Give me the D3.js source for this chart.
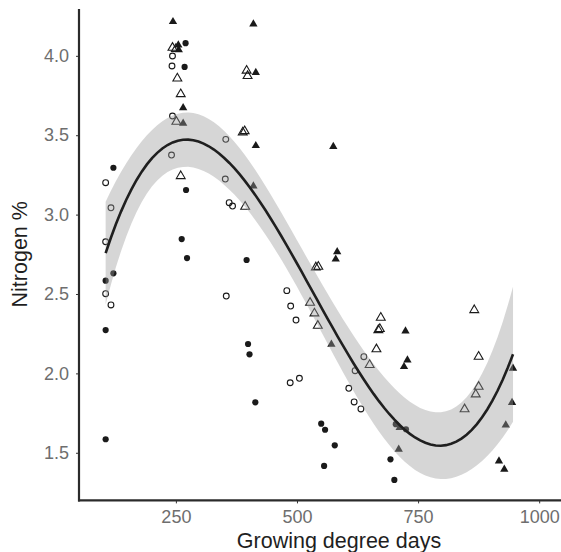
<!DOCTYPE html>
<html>
<head>
<meta charset="utf-8">
<script src="https://cdn.jsdelivr.net/npm/d3@7"></script>
<style>
  html, body { margin: 0; padding: 0; background: #fff; }
  svg { display: block; }
  text { font-family: "Liberation Sans", Arial, Helvetica, sans-serif; }
</style>
</head>
<body>
<svg id="chart" width="561" height="552"></svg>
<script>
// Nitrogen % against growing degree days, four sample groups
const solidCircles = [
  [270, 4.08], [268, 3.93], [271, 3.155], [262, 2.846], [273, 2.726],
  [121, 3.295], [105, 2.584], [121, 2.63], [105, 2.273], [105, 1.585],
  [396, 2.714], [399, 2.185], [402, 2.12], [414, 1.818],
  [550, 1.683], [558, 1.645], [578, 1.547], [556, 1.417],
  [704, 1.68], [725, 1.648], [693, 1.459], [701, 1.329]
];
const openCircles = [
  [243, 3.999], [242, 3.936], [243, 3.621], [241, 3.375],
  [105, 3.201], [116, 3.043], [105, 2.829], [105, 2.502], [116, 2.431],
  [353, 3.474], [352, 3.224], [360, 3.075], [367, 3.054], [354, 2.487],
  [479, 2.521], [487, 2.424], [498, 2.336], [486, 1.941], [505, 1.969],
  [638, 2.105], [620, 2.017], [607, 1.906], [618, 1.82], [632, 1.776]
];
const solidTriangles = [
  [244, 4.215], [255, 4.068], [256, 4.037], [265, 3.673], [265, 3.575],
  [410, 4.2], [415, 3.894], [415, 3.434], [410, 3.18],
  [575, 3.428], [583, 2.766], [580, 2.719], [571, 2.183],
  [724, 2.267], [728, 2.084], [721, 2.042], [712, 1.658], [710, 1.522],
  [946, 2.032], [944, 1.816], [931, 1.675], [917, 1.448], [928, 1.396]
];
const openTriangles = [
  [243, 4.051], [250, 4.043], [253, 3.858], [260, 3.759], [251, 3.585], [260, 3.243],
  [396, 3.907], [398, 3.873], [388, 3.518], [392, 3.526], [393, 3.05],
  [539, 2.668], [544, 2.672], [527, 2.445], [536, 2.378], [543, 2.3],
  [650, 2.053], [664, 2.152], [673, 2.351], [671, 2.28], [668, 2.273],
  [866, 2.399], [875, 2.105], [875, 1.916], [869, 1.868], [846, 1.774]
];

const xTicks = [250, 500, 750, 1000];
const yTicks = [1.5, 2.0, 2.5, 3.0, 3.5, 4.0];
const xTitle = "Growing degree days";
const yTitle = "Nitrogen %";

const svg = d3.select("#chart");
const plotLeft = 79, plotRight = 563.4, plotTop = 8.2, plotBottom = 500.4;

const x = d3.scaleLinear().domain([50, 1050]).range([plotLeft, plotRight]);
const y = d3.scaleLinear().domain([1.2, 4.3]).range([plotBottom, plotTop]);

// ---- cubic least-squares fit with 95% confidence band ----
const all = [...solidCircles, ...openCircles, ...solidTriangles, ...openTriangles];
const n = all.length;
const mx = d3.mean(all, d => d[0]);
const sx = d3.deviation(all, d => d[0]);
const basis = v => { const u = (v - mx) / sx; return [1, u, u * u, u * u * u]; };

const XtX = Array.from({length: 4}, () => [0, 0, 0, 0]);
const Xty = [0, 0, 0, 0];
all.forEach(([xv, yv]) => {
  const b = basis(xv);
  for (let i = 0; i < 4; i++) {
    Xty[i] += b[i] * yv;
    for (let j = 0; j < 4; j++) XtX[i][j] += b[i] * b[j];
  }
});

function invert(m) {
  const k = m.length;
  const a = m.map((row, i) => [...row, ...Array.from({length: k}, (_, j) => (i === j ? 1 : 0))]);
  for (let c = 0; c < k; c++) {
    let p = c;
    for (let r = c + 1; r < k; r++) if (Math.abs(a[r][c]) > Math.abs(a[p][c])) p = r;
    [a[c], a[p]] = [a[p], a[c]];
    const pv = a[c][c];
    for (let j = 0; j < 2 * k; j++) a[c][j] /= pv;
    for (let r = 0; r < k; r++) {
      if (r === c) continue;
      const f = a[r][c];
      for (let j = 0; j < 2 * k; j++) a[r][j] -= f * a[c][j];
    }
  }
  return a.map(row => row.slice(k));
}

const inv = invert(XtX);
const coef = inv.map(row => d3.sum(row, (v, j) => v * Xty[j]));
const predict = v => d3.sum(basis(v), (b, i) => b * coef[i]);
const rss = d3.sum(all, ([xv, yv]) => (yv - predict(xv)) ** 2);
const s2 = rss / (n - 4);
const tq = 1.9864;

const [xmin, xmax] = d3.extent(all, d => d[0]);
const fit = d3.range(80).map(i => {
  const xv = xmin + (xmax - xmin) * i / 79;
  const b = basis(xv);
  let q = 0;
  for (let a = 0; a < 4; a++) for (let c = 0; c < 4; c++) q += b[a] * inv[a][c] * b[c];
  const se = Math.sqrt(s2 * q);
  const f = predict(xv);
  return {x: xv, fit: f, lo: f - tq * se, hi: f + tq * se};
});

// ---- points ----
const pts = svg.append("g");
const sym = (type, size) => d3.symbol().type(type).size(size)();

pts.selectAll(".sc").data(solidCircles).join("circle")
  .attr("cx", d => x(d[0])).attr("cy", d => y(d[1])).attr("r", 3.1)
  .attr("fill", "#1a1a1a");
pts.selectAll(".oc").data(openCircles).join("circle")
  .attr("cx", d => x(d[0])).attr("cy", d => y(d[1])).attr("r", 2.9)
  .attr("fill", "none").attr("stroke", "#1a1a1a").attr("stroke-width", 1.1);
pts.selectAll(".st").data(solidTriangles).join("path")
  .attr("transform", d => `translate(${x(d[0])},${y(d[1])})`)
  .attr("d", sym(d3.symbolTriangle, 30)).attr("fill", "#1a1a1a");
pts.selectAll(".ot").data(openTriangles).join("path")
  .attr("transform", d => `translate(${x(d[0])},${y(d[1])})`)
  .attr("d", sym(d3.symbolTriangle, 34))
  .attr("fill", "none").attr("stroke", "#1a1a1a").attr("stroke-width", 1.1);

// ---- confidence band and fitted line ----
svg.append("path").datum(fit)
  .attr("d", d3.area().x(d => x(d.x)).y0(d => y(d.lo)).y1(d => y(d.hi)))
  .attr("fill", "#999999").attr("fill-opacity", 0.4);
svg.append("path").datum(fit)
  .attr("d", d3.line().x(d => x(d.x)).y(d => y(d.fit)))
  .attr("fill", "none").attr("stroke", "#1f1f1f").attr("stroke-width", 2.6);

// ---- axes ----
const gx = svg.append("g").attr("transform", `translate(0,${plotBottom})`)
  .call(d3.axisBottom(x).tickValues(xTicks).tickSize(3).tickPadding(7).tickFormat(d3.format("d")));
const gy = svg.append("g").attr("transform", `translate(${plotLeft},0)`)
  .call(d3.axisLeft(y).tickValues(yTicks).tickSize(3).tickPadding(7).tickFormat(d3.format(".1f")));
[gx, gy].forEach(g => {
  g.select(".domain").remove();
  g.selectAll(".tick line").attr("stroke", "#333").attr("stroke-width", 1);
  g.selectAll(".tick text").attr("fill", "#6e6e6e").style("font-size", "18px")
    .style("font-family", "'Liberation Sans', Arial, sans-serif");
});

svg.append("line").attr("x1", plotLeft).attr("x2", plotLeft).attr("y1", 9).attr("y2", plotBottom + 1)
  .attr("stroke", "#2b2b2b").attr("stroke-width", 2.2);
svg.append("line").attr("x1", plotLeft - 1).attr("x2", 561).attr("y1", plotBottom).attr("y2", plotBottom)
  .attr("stroke", "#2b2b2b").attr("stroke-width", 2.2);

svg.append("text").attr("x", 339).attr("y", 547.5).attr("text-anchor", "middle")
  .attr("fill", "#1f1f1f").style("font-size", "21.5px").text(xTitle);
svg.append("text").attr("transform", `translate(27,${(plotTop + plotBottom) / 2}) rotate(-90)`)
  .attr("text-anchor", "middle").attr("fill", "#1f1f1f").style("font-size", "21.5px").text(yTitle);
</script>
</body>
</html>
